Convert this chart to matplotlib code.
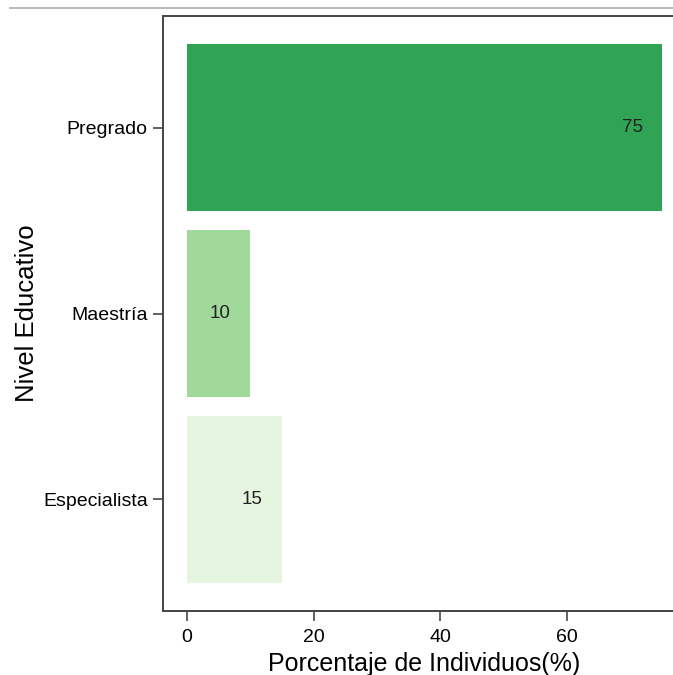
import numpy as np
import matplotlib.pyplot as plt
from matplotlib.lines import Line2D

plt.rcParams['font.family'] = ['Liberation Sans', 'DejaVu Sans']

# Datos
niveles = ['Especialista', 'Maestría', 'Pregrado']
porcentajes = [15, 10, 75]
colores = ['#e5f5e0', '#a1d99b', '#31a354']

fig = plt.figure(figsize=(6.73, 6.75), dpi=100)
ax = fig.add_axes([163 / 673, 1 - 611 / 675, (686 - 163) / 673, (611 - 16) / 675])

y = np.arange(len(niveles))
ax.barh(y, porcentajes, height=0.9, color=colores)

for yi, v in zip(y, porcentajes):
    ax.text(v - 4.7, yi, str(v), ha='center', va='center', fontsize=13.5, color='#222222')

ax.set_xlim(-3.75, 78.75)
ax.set_ylim(-0.6, 2.6)
ax.set_yticks(y)
ax.set_yticklabels(niveles, fontsize=14)
ax.set_xticks([0, 20, 40, 60])
ax.tick_params(axis='x', labelsize=14, length=7, width=1.3, color='#555555', pad=6)
ax.tick_params(axis='y', labelsize=14, length=7, width=1.3, color='#555555', pad=4)
ax.set_xlabel('Porcentaje de Individuos(%)', fontsize=18, labelpad=4)
ax.set_ylabel('Nivel Educativo', fontsize=18.5, labelpad=3)

for s in ['left', 'bottom', 'top']:
    ax.spines[s].set_color('#444444')
    ax.spines[s].set_linewidth(1.4)
ax.spines['right'].set_visible(False)

# línea gris superior
fig.add_artist(Line2D([10 / 673, 1], [1 - 8 / 675, 1 - 8 / 675], color='#aaaaaa', lw=1.2))

fig.savefig('out.png', dpi=100)
